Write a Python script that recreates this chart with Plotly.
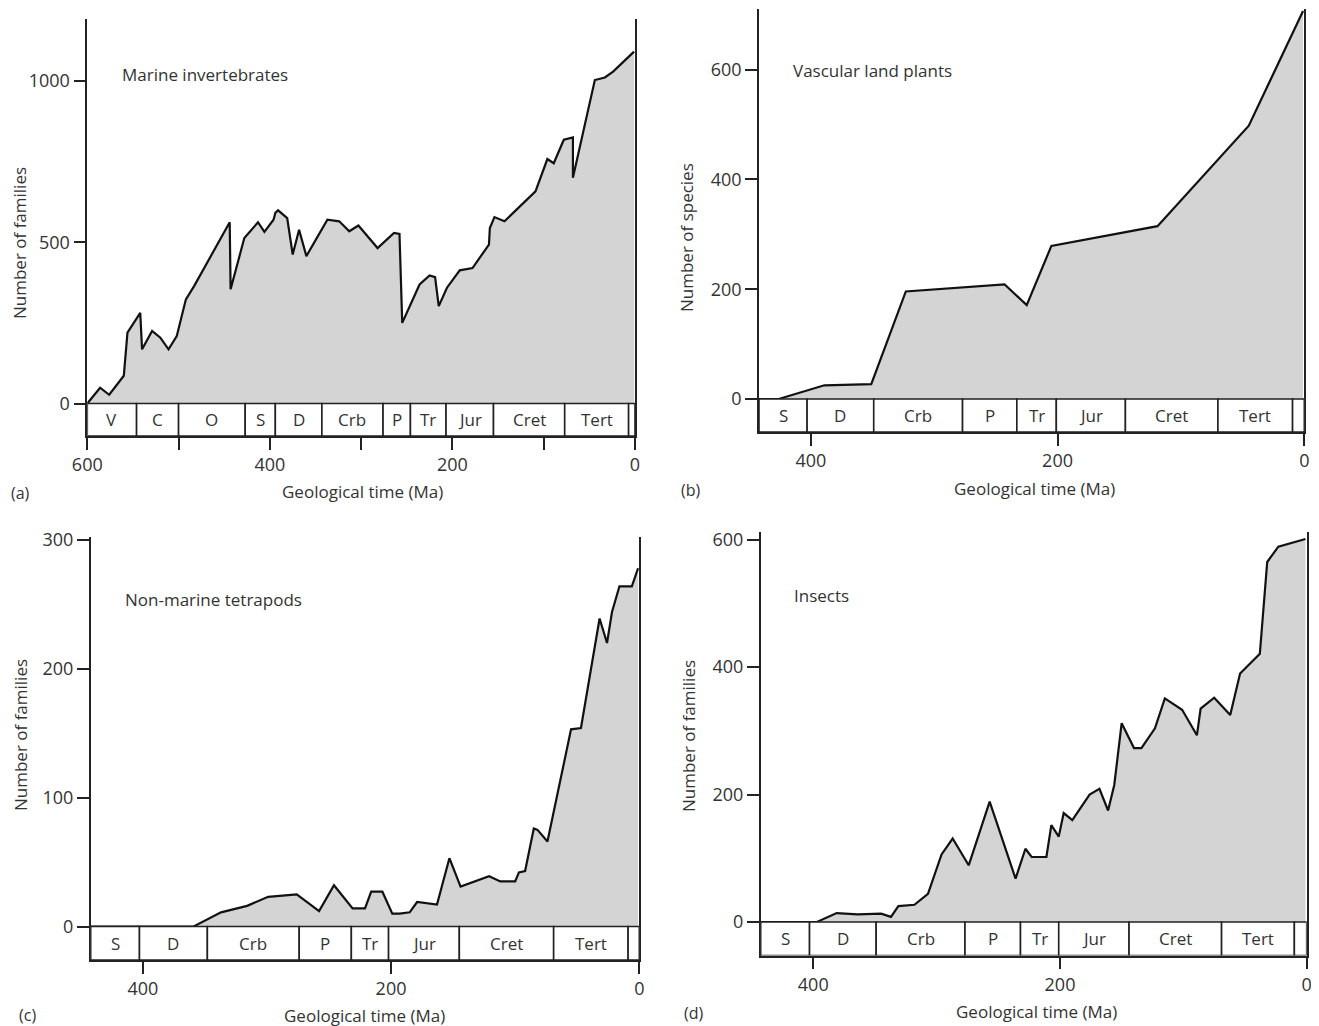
import plotly.graph_objects as go

# page body has an 8px margin; the figure is drawn 8px in from the window corner
OFF = 8
W, H = 1319 - OFF, 1026 - OFF

# ---------------- data ----------------
# (a) Marine invertebrates (families)
a_age = [600, 586, 576, 560, 556, 542, 540, 529, 520, 511, 502, 492, 483, 444, 443, 428, 413, 406, 396, 394,
         391, 381, 375, 368, 360, 337, 324, 313, 303, 282, 264, 258, 255, 236, 225, 219, 215, 206, 192, 178,
         160, 159, 154, 143, 109, 96, 89, 78, 68, 68, 44, 33, 24, 1]
a_fam = [0, 49, 27, 86, 220, 281, 168, 225, 204, 168, 209, 323, 364, 562, 354, 513, 562, 532, 570, 591,
         599, 575, 462, 539, 457, 570, 565, 534, 552, 482, 529, 526, 250, 369, 397, 392, 302, 359, 413, 420,
         493, 544, 578, 565, 658, 758, 745, 818, 825, 700, 1003, 1011, 1029, 1091]

# (b) Vascular land plants (species)
b_age = [442, 426, 389, 351, 323, 243, 225, 205, 119, 45, 1]
b_sp = [0, 0, 25, 27, 196, 209, 171, 279, 315, 498, 707]

# (c) Non-marine tetrapods (families)
c_age = [442, 359, 337, 316, 299, 276, 258, 246, 231, 221, 216, 207, 199, 193, 185, 179, 163, 153, 144, 121,
         112, 100, 97, 92, 85, 82, 74, 55, 47, 32, 26, 22, 16, 6, 1]
c_fam = [0, 0, 11, 16, 23, 25, 12, 32, 14, 14, 27, 27, 10, 10, 11, 19, 17, 53, 31, 39,
         35, 35, 42, 43, 76, 75, 66, 153, 154, 239, 220, 244, 264, 264, 278]

# (d) Insects (families)
d_age = [443, 397, 381, 364, 345, 337, 331, 318, 307, 296, 287, 274, 257, 236, 228, 223, 211, 207, 201, 197,
         190, 176, 168, 161, 156, 150, 140, 134, 123, 115, 101, 89, 86, 75, 62, 54, 38, 32, 23, 1]
d_fam = [0, 0, 14, 12, 13, 8, 25, 27, 44, 106, 131, 89, 189, 68, 115, 102, 102, 152, 134, 171,
         160, 200, 209, 175, 215, 312, 273, 273, 304, 351, 333, 293, 335, 352, 325, 390, 421, 565, 589, 601]

# geological periods (boundaries in Ma, labels)
a_bounds = [600, 546, 500, 427, 394, 343, 276, 246, 207, 155, 77, 7, 0]
a_labels = ["V", "C", "O", "S", "D", "Crb", "P", "Tr", "Jur", "Cret", "Tert", ""]
b_bounds = [442, 403, 349, 277, 233, 201, 145, 70, 9.5, 0]
c_bounds = [442, 402.7, 348, 274, 232, 202, 145, 69, 9, 0]
d_bounds = [442.6, 403, 349, 277, 232, 201, 144, 69, 10, 0]
bcd_labels = ["S", "D", "Crb", "P", "Tr", "Jur", "Cret", "Tert", ""]

a_yticks = [0, 500, 1000]
b_yticks = [0, 200, 400, 600]
c_yticks = [0, 100, 200, 300]
d_yticks = [0, 200, 400, 600]
a_xticks = [600, 500, 400, 300, 200, 100, 0]
a_xtext = ["600", "", "400", "", "200", "", "0"]
bcd_xticks = [400, 200, 0]
bcd_xtext = ["400", "200", "0"]

# ---------------- layout geometry (window pixels) ----------------
FONT = "Open Sans, Liberation Sans, sans-serif"
TXT = "#333333"
LINE = "#222222"
FILL = "#d4d4d4"

panels = [
    dict(age=a_age, val=a_fam, bounds=a_bounds, labels=a_labels, yt=a_yticks, xt=a_xticks, xtt=a_xtext,
         xl=87.3, xr=635.0, xmax=600, zero=403.5, scale=0.3225, top=19, bot=436,
         name="Marine invertebrates", name_px=(120, 75), ytitle="Number of families", ytitle_px=(20, 243),
         xtitle_px=(362, 492), letter="(a)", letter_px=(20, 493)),
    dict(age=b_age, val=b_sp, bounds=b_bounds, labels=bcd_labels, yt=b_yticks, xt=bcd_xticks, xtt=bcd_xtext,
         xl=759.0, xr=1304.3, xmax=442, zero=399.0, scale=0.5488, top=9, bot=432,
         name="Vascular land plants", name_px=(791, 71), ytitle="Number of species", ytitle_px=(686, 238),
         xtitle_px=(1034, 488), letter="(b)", letter_px=(691, 490)),
    dict(age=c_age, val=c_fam, bounds=c_bounds, labels=bcd_labels, yt=c_yticks, xt=bcd_xticks, xtt=bcd_xtext,
         xl=90.7, xr=639.3, xmax=442, zero=926.5, scale=1.2887, top=537, bot=960,
         name="Non-marine tetrapods", name_px=(123, 599), ytitle="Number of families", ytitle_px=(20, 735),
         xtitle_px=(364, 1015), letter="(c)", letter_px=(27, 1015)),
    dict(age=d_age, val=d_fam, bounds=d_bounds, labels=bcd_labels, yt=d_yticks, xt=bcd_xticks, xtt=bcd_xtext,
         xl=760.7, xr=1306.7, xmax=442.6, zero=922.0, scale=0.6372, top=532, bot=955.5,
         name="Insects", name_px=(792, 595), ytitle="Number of families", ytitle_px=(688, 736),
         xtitle_px=(1036, 1011), letter="(d)", letter_px=(694, 1013)),
]

fig = go.Figure()
shapes, annots = [], []
layout = {}


def px(x):
    return (x - OFF) / W


def py(y):
    return 1 - (y - OFF) / H


for i, p in enumerate(panels, start=1):
    sfx = "" if i == 1 else str(i)
    xa, ya = "x" + sfx, "y" + sfx
    ytop = (p["zero"] - p["top"]) / p["scale"]
    ybot = -(p["bot"] - p["zero"]) / p["scale"]

    fig.add_trace(go.Scatter(x=p["age"], y=p["val"], xaxis=xa, yaxis=ya, mode="lines",
                             line=dict(color="#111111", width=2.2), fill="tozeroy",
                             fillcolor=FILL, hoverinfo="x+y", showlegend=False))

    layout["xaxis" + sfx] = dict(
        domain=[px(p["xl"]), px(p["xr"])], range=[p["xmax"], 0], anchor=ya, automargin=False,
        showline=True, linecolor=LINE, linewidth=1.6, mirror=False,
        ticks="outside", ticklen=12, tickwidth=1.5, tickcolor=LINE,
        tickvals=p["xt"], ticktext=p["xtt"], showgrid=False, zeroline=False,
        tickfont=dict(family=FONT, size=18, color=TXT), fixedrange=True)
    layout["yaxis" + sfx] = dict(
        domain=[py(p["bot"]), py(p["top"])], range=[ybot, ytop], anchor=xa, automargin=False,
        showline=True, linecolor=LINE, linewidth=1.6, mirror=True,
        ticks="outside", ticklen=12, tickwidth=1.5, tickcolor=LINE,
        tickvals=p["yt"], showgrid=False, zeroline=False,
        tickfont=dict(family=FONT, size=18, color=TXT), fixedrange=True)

    # period boxes
    b = p["bounds"]
    for j in range(len(b) - 1):
        shapes.append(dict(type="rect", xref=xa, yref=ya, x0=b[j], x1=b[j + 1], y0=0, y1=ybot,
                           line=dict(color=LINE, width=1.6), fillcolor="white", layer="above"))
        if p["labels"][j]:
            annots.append(dict(xref=xa, yref=ya, x=(b[j] + b[j + 1]) / 2, y=ybot / 2,
                               text=p["labels"][j], showarrow=False,
                               font=dict(family=FONT, size=17, color=TXT)))

    # series name
    nx = p["xmax"] - (p["name_px"][0] - p["xl"]) / ((p["xr"] - p["xl"]) / p["xmax"])
    ny = (p["zero"] - p["name_px"][1]) / p["scale"]
    annots.append(dict(xref=xa, yref=ya, x=nx, y=ny, xanchor="left", yanchor="middle",
                       text=p["name"], showarrow=False, font=dict(family=FONT, size=17, color=TXT)))
    # axis titles
    annots.append(dict(xref="paper", yref="paper", x=px(p["xtitle_px"][0]), y=py(p["xtitle_px"][1]),
                       xanchor="center", yanchor="middle", text="Geological time (Ma)", showarrow=False,
                       font=dict(family=FONT, size=17, color=TXT)))
    annots.append(dict(xref="paper", yref="paper", x=px(p["ytitle_px"][0]), y=py(p["ytitle_px"][1]),
                       xanchor="center", yanchor="middle", text=p["ytitle"], textangle=-90, showarrow=False,
                       font=dict(family=FONT, size=17, color=TXT)))
    annots.append(dict(xref="paper", yref="paper", x=px(p["letter_px"][0]), y=py(p["letter_px"][1]),
                       xanchor="center", yanchor="middle", text=p["letter"], showarrow=False,
                       font=dict(family=FONT, size=16, color=TXT)))

fig.update_layout(width=W, height=H, margin=dict(l=0, r=0, t=0, b=0, pad=0, autoexpand=False),
                  paper_bgcolor="white", plot_bgcolor="white", showlegend=False,
                  shapes=shapes, annotations=annots, **layout)

fig.write_html("out.html")
